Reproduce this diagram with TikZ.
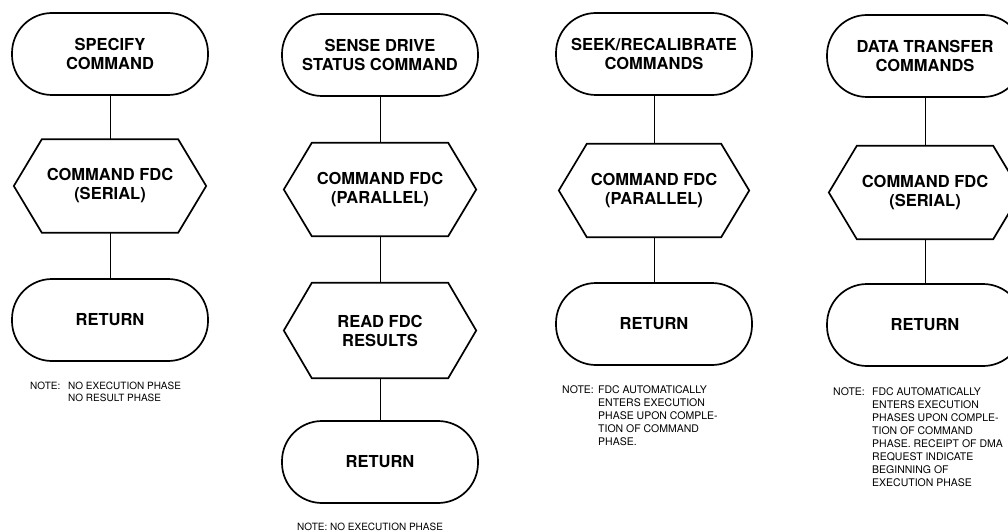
\documentclass[tikz,border=0pt]{standalone}
\usepackage{fontspec}
\setmainfont{TeX Gyre Heros}
\usetikzlibrary{calc}
\newcommand\boxfont{\fontsize{16.5}{19}\selectfont\bfseries}
\newcommand\notefont{\fontsize{10.5}{13}\selectfont}
\newcommand\notefontA{\fontsize{10}{12}\selectfont}
\tikzset{
  term/.style={draw, line width=1.7pt, rounded corners=40pt, minimum width=196pt,
    minimum height=82pt, inner sep=0pt, align=center, font=\boxfont},
  hexbox/.style={inner sep=0pt, minimum width=192pt, minimum height=93pt,
    align=center, font=\boxfont},
  hexline/.style={line width=1.7pt, line join=miter},
  link/.style={line width=0.9pt},
  notetxt/.style={anchor=north west, inner sep=0pt, font=\notefont, align=left},
}
\newcommand\hexdraw[1]{%
  \draw[hexline] ($(#1.north west)+(28,0)$) -- ($(#1.north east)+(-28,0)$)
    -- (#1.east) -- ($(#1.south east)+(-28,0)$) -- ($(#1.south west)+(28,0)$)
    -- (#1.west) -- cycle;}
\begin{document}
\begin{tikzpicture}[x=1pt,y=-1pt]
\useasboundingbox (0,0) rectangle (1008,532);
\fill[white] (0,0) rectangle (1008,532);
\clip (0,0) rectangle (1008,532);

% column 1
\node[term] (t1) at (110,54) {SPECIFY\\COMMAND};
\node[hexbox] (h1) at (110,186) {COMMAND FDC\\(SERIAL)};
\hexdraw{h1}
\node[term] (r1) at (110,320) {RETURN};
\draw[link] (t1.south) -- (h1.north);
\draw[link] (h1.south) -- (r1.north);
\node[notetxt, font=\notefontA] (n1a) at (30,382) {NOTE:};
\node[notetxt, font=\notefontA] (n1b) at (68,382) {NO EXECUTION PHASE\\NO RESULT PHASE};

% column 2
\node[term] (t2) at (380,55) {SENSE DRIVE\\STATUS COMMAND};
\node[hexbox] (h2) at (380,189.5) {COMMAND FDC\\(PARALLEL)};
\hexdraw{h2}
\node[hexbox, minimum height=95pt] (h3) at (380,330.5) {READ FDC\\RESULTS};
\hexdraw{h3}
\node[term] (r2) at (380,462) {RETURN};
\draw[link] (t2.south) -- (h2.north);
\draw[link] (h2.south) -- (h3.north);
\draw[link] (h3.south) -- (r2.north);
\node[notetxt, font=\notefontA] (n2) at (297,523) {NOTE: NO EXECUTION PHASE};

% column 3
\node[term] (t3) at (654,54) {SEEK/RECALIBRATE\\COMMANDS};
\node[hexbox, minimum width=190pt] (h4) at (654,190.5) {COMMAND FDC\\(PARALLEL)};
\hexdraw{h4}
\node[term] (r3) at (654,324) {RETURN};
\draw[link] (t3.south) -- (h4.north);
\draw[link] (h4.south) -- (r3.north);
\node[notetxt] (n3a) at (562,385) {NOTE:};
\node[notetxt] (n3b) at (598,385) {FDC AUTOMATICALLY\\ENTERS EXECUTION\\PHASE UPON COMPLE-\\TION OF COMMAND\\PHASE.};

% column 4
\node[term] (t4) at (925,56) {DATA TRANSFER\\COMMANDS};
\node[hexbox] (h5) at (925,192.5) {COMMAND FDC\\(SERIAL)};
\hexdraw{h5}
\node[term] (r4) at (925,325) {RETURN};
\draw[link] (t4.south) -- (h5.north);
\draw[link] (h5.south) -- (r4.north);
\node[notetxt] (n4a) at (833,387) {NOTE:};
\node[notetxt] (n4b) at (872,387) {FDC AUTOMATICALLY\\ENTERS EXECUTION\\PHASES UPON COMPLE-\\TION OF COMMAND\\PHASE. RECEIPT OF DMA\\REQUEST INDICATE\\BEGINNING OF\\EXECUTION PHASE};
\end{tikzpicture}
\end{document}
